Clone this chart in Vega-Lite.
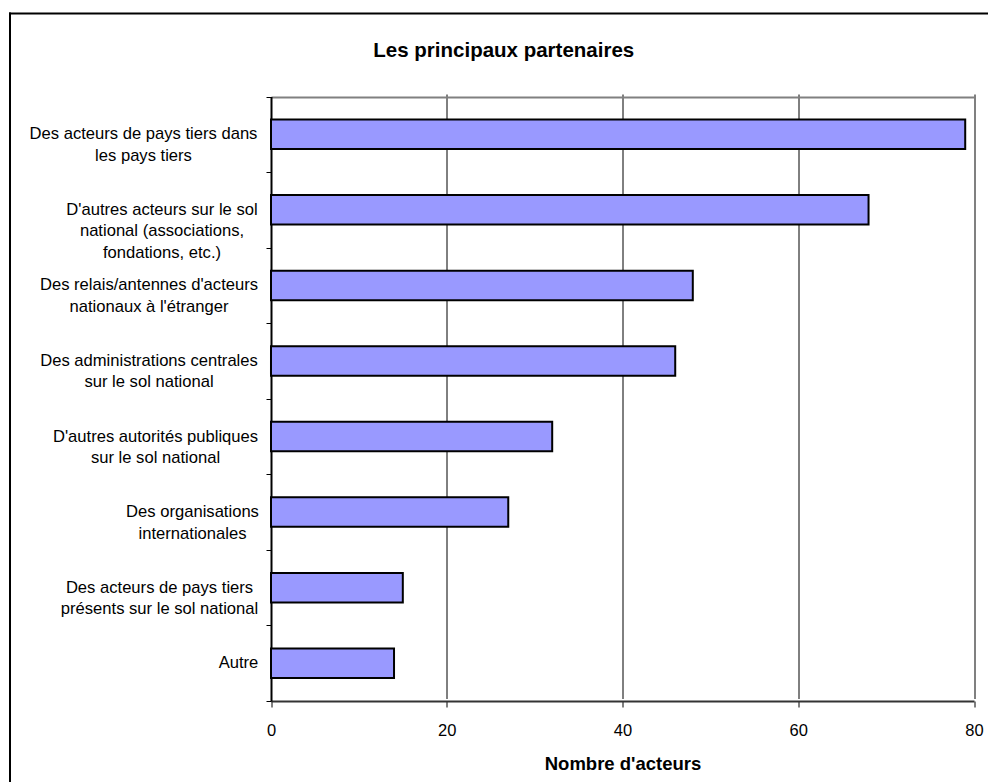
{
  "$schema": "https://vega.github.io/schema/vega-lite/v6.json",
  "width": 978.5,
  "height": 769,
  "autosize": {"type": "none"},
  "padding": {"left": 9.5, "top": 13, "right": 0, "bottom": 0},
  "background": "white",
  "view": {"stroke": "transparent", "strokeWidth": 0, "fill": "white"},
  "title": {
    "text": "Les principaux partenaires",
    "font": "Liberation Sans",
    "fontSize": 20.5,
    "fontWeight": "bold",
    "color": "black",
    "anchor": "middle",
    "frame": "group",
    "baseline": "alphabetic",
    "offset": 0,
    "dy": 64,
    "dx": 5
  },
  "data": {
    "values": [
      {"partenaire": "Des acteurs de pays tiers dans\nles pays tiers", "acteurs": 79},
      {"partenaire": "D'autres acteurs sur le sol\nnational (associations,\nfondations, etc.)", "acteurs": 68},
      {"partenaire": "Des relais/antennes d'acteurs\nnationaux à l'étranger", "acteurs": 48},
      {"partenaire": "Des administrations centrales\nsur le sol national", "acteurs": 46},
      {"partenaire": "D'autres autorités publiques\nsur le sol national", "acteurs": 32},
      {"partenaire": "Des organisations\ninternationales", "acteurs": 27},
      {"partenaire": "Des acteurs de pays tiers \nprésents sur le sol national", "acteurs": 15},
      {"partenaire": "Autre", "acteurs": 14}
    ]
  },
  "layer": [
    {
      "mark": {
        "type": "bar",
        "fill": "#9999FF",
        "stroke": "black",
        "strokeWidth": 2,
        "height": {"band": 0.39}
      },
      "encoding": {
        "y": {
          "field": "partenaire",
          "type": "nominal",
          "sort": null,
          "scale": {"range": [83.5, 688], "paddingInner": 0, "paddingOuter": 0},
          "axis": {
            "title": null,
            "orient": "left",
            "offset": -261.5,
            "tickBand": "extent",
            "domainColor": "black",
            "domainWidth": 2,
            "tickColor": "black",
            "tickWidth": 1,
            "tickSize": 5,
            "labels": false,
            "grid": true,
            "gridColor": "#808080",
            "gridWidth": 2,
            "gridOpacity": {"condition": {"test": "datum.extra", "value": 1}, "value": 0}
          }
        },
        "x": {
          "field": "acteurs",
          "type": "quantitative",
          "scale": {"domain": [0, 80], "range": [261.5, 964.5], "nice": false},
          "axis": {
            "title": "Nombre d'acteurs",
            "orient": "bottom",
            "offset": -81,
            "values": [0, 20, 40, 60, 80],
            "domainColor": "#333333",
            "domainWidth": 2,
            "tickColor": "black",
            "tickWidth": 1,
            "tickSize": 6,
            "labelFont": "Liberation Sans",
            "labelFontSize": 16.5,
            "labelColor": "black",
            "labelPadding": 15.5,
            "labelFlush": false,
            "labelOverlap": false,
            "grid": true,
            "gridColor": {"condition": {"test": "datum.value === 80", "value": "#808080"}, "value": "black"},
            "gridWidth": {"condition": {"test": "datum.value === 80", "value": 2}, "value": 1},
            "gridOpacity": {"condition": {"test": "datum.value === 0", "value": 0}, "value": 1},
            "titleFont": "Liberation Sans",
            "titleFontSize": 18.5,
            "titleFontWeight": "bold",
            "titleColor": "black",
            "titlePadding": 15
          }
        }
      }
    },
    {
      "mark": {
        "type": "text",
        "align": "center",
        "baseline": "middle",
        "font": "Liberation Sans",
        "fontSize": 16.6,
        "color": "black",
        "lineBreak": "\n",
        "lineHeight": 21.5,
        "dx": {"expr": "indexof(datum.partenaire, 'dans') >= 0 ? -127.5 : indexof(datum.partenaire, 'associations') >= 0 ? -109 : (indexof(datum.partenaire, 'relais') >= 0 || indexof(datum.partenaire, 'administrations') >= 0) ? -122 : indexof(datum.partenaire, 'autorit') >= 0 ? -115.5 : indexof(datum.partenaire, 'organisations') >= 0 ? -78.5 : indexof(datum.partenaire, 'présents') >= 0 ? -111.5 : -32.5"}
      },
      "encoding": {
        "y": {
          "field": "partenaire",
          "type": "nominal",
          "sort": null,
          "scale": {"range": [83.5, 688], "paddingInner": 0, "paddingOuter": 0},
          "axis": null
        },
        "x": {
          "datum": 0,
          "type": "quantitative",
          "scale": {"domain": [0, 80], "range": [261.5, 964.5], "nice": false},
          "axis": null
        },
        "text": {"field": "partenaire", "type": "nominal"}
      }
    },
    {
      "mark": {"type": "point", "opacity": 0},
      "encoding": {
        "x": {
          "field": "acteurs",
          "type": "quantitative",
          "scale": {"domain": [0, 80], "range": [0, 978.5], "nice": false},
          "axis": {
            "orient": "top",
            "title": null,
            "domainColor": "black",
            "domainWidth": 2,
            "domainCap": "square",
            "ticks": false,
            "labels": false,
            "grid": false
          }
        },
        "y": {
          "field": "partenaire",
          "type": "nominal",
          "sort": null,
          "scale": {"range": [0, 769]},
          "axis": {
            "orient": "left",
            "title": null,
            "domainColor": "black",
            "domainWidth": 2,
            "domainCap": "square",
            "ticks": false,
            "labels": false,
            "grid": false
          }
        }
      }
    }
  ],
  "resolve": {
    "scale": {"x": "independent", "y": "independent"},
    "axis": {"x": "independent", "y": "independent"}
  },
  "config": {
    "view": {"stroke": "transparent", "strokeWidth": 0, "fill": "white"}
  }
}
